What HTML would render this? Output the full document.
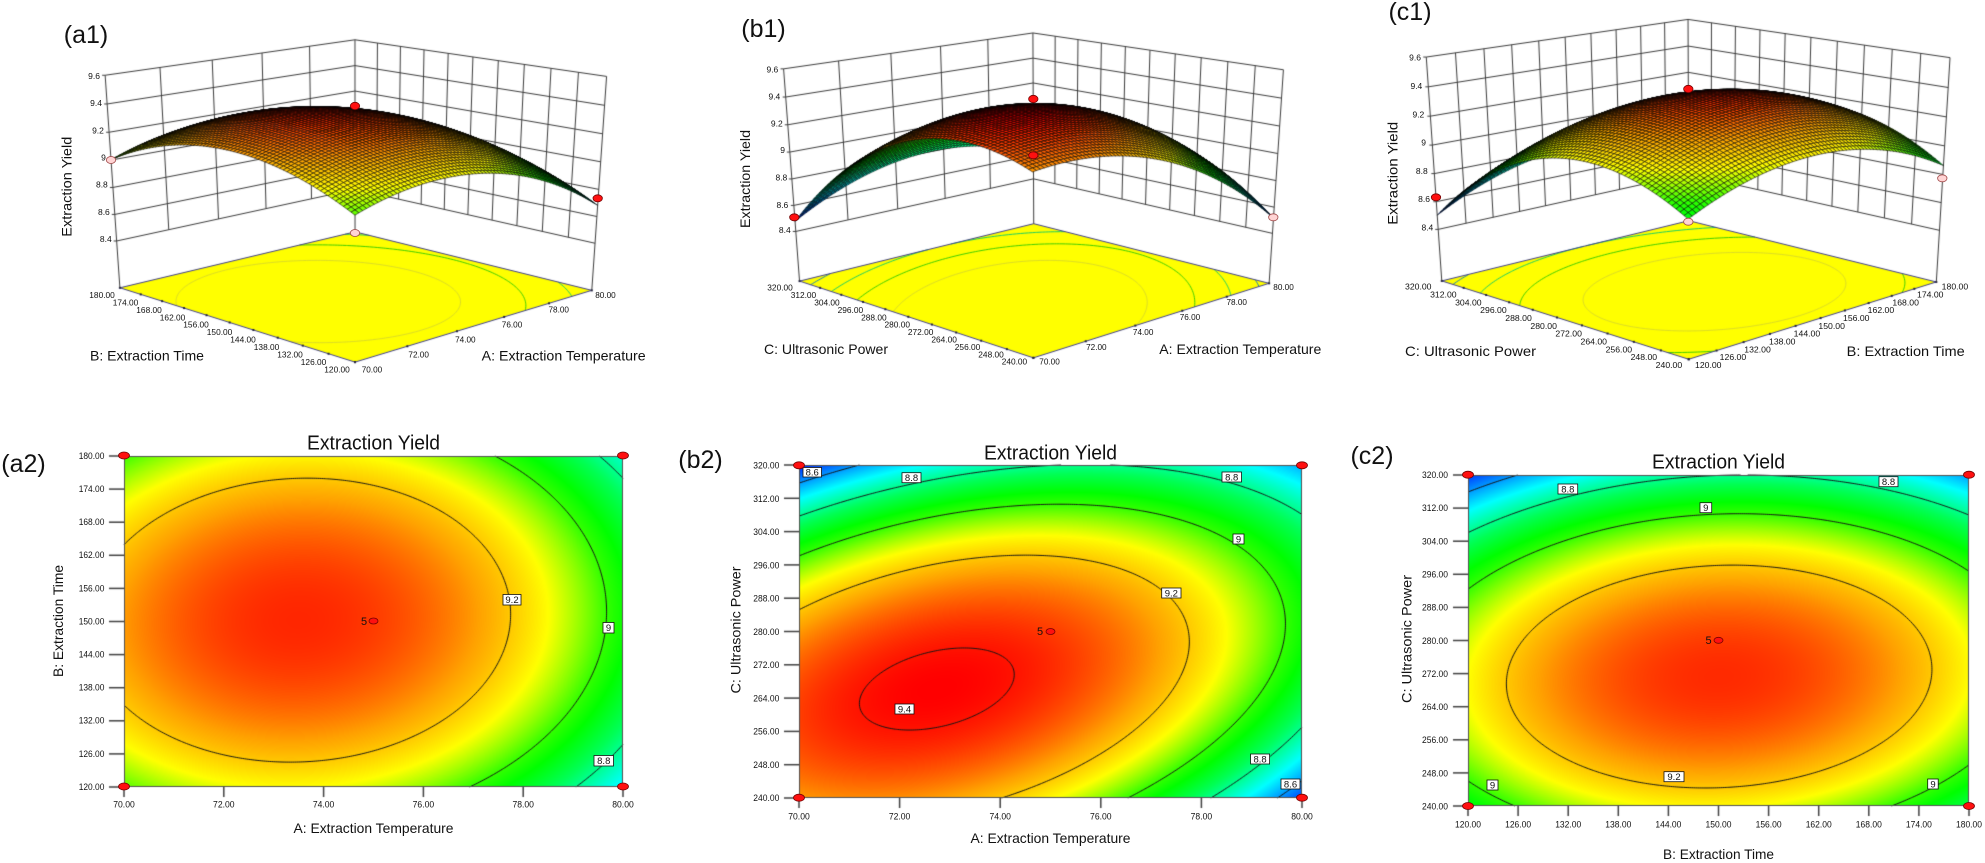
<!DOCTYPE html>
<html><head><meta charset="utf-8">
<style>
html,body{margin:0;padding:0;background:#fff;}
#wrap{position:relative;width:1985px;height:863px;overflow:hidden;background:#fff;}
canvas,svg{position:absolute;left:0;top:0;}
text{font-family:"Liberation Sans",Arial,sans-serif;fill:#111;}
.t8{font-size:8.5px;}
.t9{font-size:9.5px;}
.t14{font-size:14px;}
.pl{font-size:25px;}
.ttl{font-size:20px;}
.lb rect{fill:#fff;stroke:#111;stroke-width:0.8;}
.lb text{font-size:9.5px;text-anchor:middle;}
.rd{fill:#ff1010;stroke:#700;stroke-width:0.8;}
.pk{fill:#ffd4d4;stroke:#a04848;stroke-width:0.8;}
</style></head><body>
<div id="wrap">
<canvas id="cv" width="1985" height="863"></canvas>
<svg id="sv" width="1985" height="863" xmlns="http://www.w3.org/2000/svg">
<text class="pl" x="86" y="43" text-anchor="middle">(a1)</text>
<text class="pl" x="763.5" y="37" text-anchor="middle">(b1)</text>
<text class="pl" x="1410" y="20" text-anchor="middle">(c1)</text>
<text class="pl" x="23.5" y="472" text-anchor="middle">(a2)</text>
<text class="pl" x="700.5" y="468" text-anchor="middle">(b2)</text>
<text class="pl" x="1372" y="464" text-anchor="middle">(c2)</text>

<text class="ttl" x="373.5" y="449.3" text-anchor="middle" textLength="133" lengthAdjust="spacingAndGlyphs">Extraction Yield</text>
<text class="ttl" x="1050.5" y="459.3" text-anchor="middle" textLength="133" lengthAdjust="spacingAndGlyphs">Extraction Yield</text>
<text class="ttl" x="1718.5" y="468.3" text-anchor="middle" textLength="133" lengthAdjust="spacingAndGlyphs">Extraction Yield</text>

<text class="t14" x="373.5" y="833" text-anchor="middle" textLength="160" lengthAdjust="spacingAndGlyphs">A: Extraction Temperature</text>
<text class="t14" x="1050.5" y="843" text-anchor="middle" textLength="160" lengthAdjust="spacingAndGlyphs">A: Extraction Temperature</text>
<text class="t14" x="1718.5" y="859" text-anchor="middle" textLength="111" lengthAdjust="spacingAndGlyphs">B: Extraction Time</text>
<text class="t14" transform="translate(63,621) rotate(-90)" text-anchor="middle" textLength="112" lengthAdjust="spacingAndGlyphs">B: Extraction Time</text>
<text class="t14" transform="translate(740.5,630) rotate(-90)" text-anchor="middle" textLength="127" lengthAdjust="spacingAndGlyphs">C: Ultrasonic Power</text>
<text class="t14" transform="translate(1411.5,639) rotate(-90)" text-anchor="middle" textLength="128" lengthAdjust="spacingAndGlyphs">C: Ultrasonic Power</text>

<text class="t14" transform="translate(71.5,186.7) rotate(-90)" text-anchor="middle" textLength="100" lengthAdjust="spacingAndGlyphs">Extraction Yield</text>
<text class="t14" transform="translate(750,179) rotate(-90)" text-anchor="middle" textLength="98" lengthAdjust="spacingAndGlyphs">Extraction Yield</text>
<text class="t14" transform="translate(1397.5,173.3) rotate(-90)" text-anchor="middle" textLength="103" lengthAdjust="spacingAndGlyphs">Extraction Yield</text>
<text class="t14" x="90" y="360.5" textLength="114" lengthAdjust="spacingAndGlyphs">B: Extraction Time</text>
<text class="t14" x="481.7" y="360.5" textLength="164" lengthAdjust="spacingAndGlyphs">A: Extraction Temperature</text>
<text class="t14" x="764" y="354" textLength="124" lengthAdjust="spacingAndGlyphs">C: Ultrasonic Power</text>
<text class="t14" x="1159.3" y="354" textLength="162" lengthAdjust="spacingAndGlyphs">A: Extraction Temperature</text>
<text class="t14" x="1405" y="356" textLength="131" lengthAdjust="spacingAndGlyphs">C: Ultrasonic Power</text>
<text class="t14" x="1846.7" y="356" textLength="118" lengthAdjust="spacingAndGlyphs">B: Extraction Time</text>

<g class="t8" text-anchor="end">
<text x="100" y="79">9.6</text><text x="102" y="106.2">9.4</text><text x="103.9" y="133.3">9.2</text><text x="105.9" y="160.5">9</text><text x="107.8" y="187.7">8.8</text><text x="109.8" y="214.8">8.6</text><text x="111.7" y="242">8.4</text>
<text x="778.3" y="72.3">9.6</text><text x="780.3" y="99.7">9.4</text><text x="782.7" y="126.3">9.2</text><text x="785" y="153">9</text><text x="787.3" y="180.7">8.8</text><text x="788.3" y="208">8.6</text><text x="790.7" y="233">8.4</text>
<text x="1421" y="60.3">9.6</text><text x="1422.3" y="89">9.4</text><text x="1424.3" y="117.3">9.2</text><text x="1426" y="145.7">9</text><text x="1427.7" y="174">8.8</text><text x="1430" y="202">8.6</text><text x="1433.3" y="230.7">8.4</text>
</g>

<g class="t8">
<text x="89.3" y="298" textLength="25.5" lengthAdjust="spacingAndGlyphs">180.00</text>
<text x="112.8" y="305.4" textLength="25.5" lengthAdjust="spacingAndGlyphs">174.00</text>
<text x="136.3" y="312.9" textLength="25.5" lengthAdjust="spacingAndGlyphs">168.00</text>
<text x="159.8" y="320.3" textLength="25.5" lengthAdjust="spacingAndGlyphs">162.00</text>
<text x="183.3" y="327.7" textLength="25.5" lengthAdjust="spacingAndGlyphs">156.00</text>
<text x="206.8" y="335.2" textLength="25.5" lengthAdjust="spacingAndGlyphs">150.00</text>
<text x="230.3" y="342.6" textLength="25.5" lengthAdjust="spacingAndGlyphs">144.00</text>
<text x="253.8" y="350" textLength="25.5" lengthAdjust="spacingAndGlyphs">138.00</text>
<text x="277.3" y="357.4" textLength="25.5" lengthAdjust="spacingAndGlyphs">132.00</text>
<text x="300.8" y="364.9" textLength="25.5" lengthAdjust="spacingAndGlyphs">126.00</text>
<text x="324.3" y="372.3" textLength="25.5" lengthAdjust="spacingAndGlyphs">120.00</text>
<text x="361.7" y="372.3" textLength="20.5" lengthAdjust="spacingAndGlyphs">70.00</text>
<text x="408.4" y="357.4" textLength="20.5" lengthAdjust="spacingAndGlyphs">72.00</text>
<text x="455.1" y="342.5" textLength="20.5" lengthAdjust="spacingAndGlyphs">74.00</text>
<text x="501.8" y="327.6" textLength="20.5" lengthAdjust="spacingAndGlyphs">76.00</text>
<text x="548.5" y="312.7" textLength="20.5" lengthAdjust="spacingAndGlyphs">78.00</text>
<text x="595.2" y="297.8" textLength="20.5" lengthAdjust="spacingAndGlyphs">80.00</text>
<text x="767.3" y="290.7" textLength="25.5" lengthAdjust="spacingAndGlyphs">320.00</text>
<text x="790.7" y="298.1" textLength="25.5" lengthAdjust="spacingAndGlyphs">312.00</text>
<text x="814.2" y="305.5" textLength="25.5" lengthAdjust="spacingAndGlyphs">304.00</text>
<text x="837.6" y="312.9" textLength="25.5" lengthAdjust="spacingAndGlyphs">296.00</text>
<text x="861.1" y="320.3" textLength="25.5" lengthAdjust="spacingAndGlyphs">288.00</text>
<text x="884.5" y="327.7" textLength="25.5" lengthAdjust="spacingAndGlyphs">280.00</text>
<text x="907.9" y="335.1" textLength="25.5" lengthAdjust="spacingAndGlyphs">272.00</text>
<text x="931.4" y="342.5" textLength="25.5" lengthAdjust="spacingAndGlyphs">264.00</text>
<text x="954.8" y="349.9" textLength="25.5" lengthAdjust="spacingAndGlyphs">256.00</text>
<text x="978.3" y="357.3" textLength="25.5" lengthAdjust="spacingAndGlyphs">248.00</text>
<text x="1001.7" y="364.7" textLength="25.5" lengthAdjust="spacingAndGlyphs">240.00</text>
<text x="1039.3" y="364.7" textLength="20.5" lengthAdjust="spacingAndGlyphs">70.00</text>
<text x="1086.1" y="349.8" textLength="20.5" lengthAdjust="spacingAndGlyphs">72.00</text>
<text x="1132.9" y="334.8" textLength="20.5" lengthAdjust="spacingAndGlyphs">74.00</text>
<text x="1179.7" y="319.9" textLength="20.5" lengthAdjust="spacingAndGlyphs">76.00</text>
<text x="1226.5" y="304.9" textLength="20.5" lengthAdjust="spacingAndGlyphs">78.00</text>
<text x="1273.3" y="290" textLength="20.5" lengthAdjust="spacingAndGlyphs">80.00</text>
<text x="1405" y="289.7" textLength="26.5" lengthAdjust="spacingAndGlyphs">320.00</text>
<text x="1430.1" y="297.5" textLength="26.5" lengthAdjust="spacingAndGlyphs">312.00</text>
<text x="1455.1" y="305.4" textLength="26.5" lengthAdjust="spacingAndGlyphs">304.00</text>
<text x="1480.2" y="313.2" textLength="26.5" lengthAdjust="spacingAndGlyphs">296.00</text>
<text x="1505.3" y="321" textLength="26.5" lengthAdjust="spacingAndGlyphs">288.00</text>
<text x="1530.4" y="328.9" textLength="26.5" lengthAdjust="spacingAndGlyphs">280.00</text>
<text x="1555.4" y="336.7" textLength="26.5" lengthAdjust="spacingAndGlyphs">272.00</text>
<text x="1580.5" y="344.5" textLength="26.5" lengthAdjust="spacingAndGlyphs">264.00</text>
<text x="1605.6" y="352.3" textLength="26.5" lengthAdjust="spacingAndGlyphs">256.00</text>
<text x="1630.6" y="360.2" textLength="26.5" lengthAdjust="spacingAndGlyphs">248.00</text>
<text x="1655.7" y="368" textLength="26.5" lengthAdjust="spacingAndGlyphs">240.00</text>
<text x="1695" y="368" textLength="26.5" lengthAdjust="spacingAndGlyphs">120.00</text>
<text x="1719.7" y="360.2" textLength="26.5" lengthAdjust="spacingAndGlyphs">126.00</text>
<text x="1744.3" y="352.3" textLength="26.5" lengthAdjust="spacingAndGlyphs">132.00</text>
<text x="1769" y="344.5" textLength="26.5" lengthAdjust="spacingAndGlyphs">138.00</text>
<text x="1793.7" y="336.7" textLength="26.5" lengthAdjust="spacingAndGlyphs">144.00</text>
<text x="1818.4" y="328.9" textLength="26.5" lengthAdjust="spacingAndGlyphs">150.00</text>
<text x="1843" y="321" textLength="26.5" lengthAdjust="spacingAndGlyphs">156.00</text>
<text x="1867.7" y="313.2" textLength="26.5" lengthAdjust="spacingAndGlyphs">162.00</text>
<text x="1892.4" y="305.4" textLength="26.5" lengthAdjust="spacingAndGlyphs">168.00</text>
<text x="1917" y="297.5" textLength="26.5" lengthAdjust="spacingAndGlyphs">174.00</text>
<text x="1941.7" y="289.7" textLength="26.5" lengthAdjust="spacingAndGlyphs">180.00</text>
</g>

<g class="t9" text-anchor="end">
<text x="104.4" y="458.9" textLength="25.7" lengthAdjust="spacingAndGlyphs">180.00</text>
<text x="104.4" y="492" textLength="25.7" lengthAdjust="spacingAndGlyphs">174.00</text>
<text x="104.4" y="525.1" textLength="25.7" lengthAdjust="spacingAndGlyphs">168.00</text>
<text x="104.4" y="558.2" textLength="25.7" lengthAdjust="spacingAndGlyphs">162.00</text>
<text x="104.4" y="591.3" textLength="25.7" lengthAdjust="spacingAndGlyphs">156.00</text>
<text x="104.4" y="624.4" textLength="25.7" lengthAdjust="spacingAndGlyphs">150.00</text>
<text x="104.4" y="657.5" textLength="25.7" lengthAdjust="spacingAndGlyphs">144.00</text>
<text x="104.4" y="690.6" textLength="25.7" lengthAdjust="spacingAndGlyphs">138.00</text>
<text x="104.4" y="723.7" textLength="25.7" lengthAdjust="spacingAndGlyphs">132.00</text>
<text x="104.4" y="756.8" textLength="25.7" lengthAdjust="spacingAndGlyphs">126.00</text>
<text x="104.4" y="789.9" textLength="25.7" lengthAdjust="spacingAndGlyphs">120.00</text>
<text x="779.3" y="468.7" textLength="26" lengthAdjust="spacingAndGlyphs">320.00</text>
<text x="779.3" y="501.9" textLength="26" lengthAdjust="spacingAndGlyphs">312.00</text>
<text x="779.3" y="535.2" textLength="26" lengthAdjust="spacingAndGlyphs">304.00</text>
<text x="779.3" y="568.4" textLength="26" lengthAdjust="spacingAndGlyphs">296.00</text>
<text x="779.3" y="601.7" textLength="26" lengthAdjust="spacingAndGlyphs">288.00</text>
<text x="779.3" y="634.9" textLength="26" lengthAdjust="spacingAndGlyphs">280.00</text>
<text x="779.3" y="668.1" textLength="26" lengthAdjust="spacingAndGlyphs">272.00</text>
<text x="779.3" y="701.4" textLength="26" lengthAdjust="spacingAndGlyphs">264.00</text>
<text x="779.3" y="734.6" textLength="26" lengthAdjust="spacingAndGlyphs">256.00</text>
<text x="779.3" y="767.9" textLength="26" lengthAdjust="spacingAndGlyphs">248.00</text>
<text x="779.3" y="801.1" textLength="26" lengthAdjust="spacingAndGlyphs">240.00</text>
<text x="1448" y="478.1" textLength="26" lengthAdjust="spacingAndGlyphs">320.00</text>
<text x="1448" y="511.2" textLength="26" lengthAdjust="spacingAndGlyphs">312.00</text>
<text x="1448" y="544.4" textLength="26" lengthAdjust="spacingAndGlyphs">304.00</text>
<text x="1448" y="577.5" textLength="26" lengthAdjust="spacingAndGlyphs">296.00</text>
<text x="1448" y="610.6" textLength="26" lengthAdjust="spacingAndGlyphs">288.00</text>
<text x="1448" y="643.8" textLength="26" lengthAdjust="spacingAndGlyphs">280.00</text>
<text x="1448" y="676.9" textLength="26" lengthAdjust="spacingAndGlyphs">272.00</text>
<text x="1448" y="710" textLength="26" lengthAdjust="spacingAndGlyphs">264.00</text>
<text x="1448" y="743.1" textLength="26" lengthAdjust="spacingAndGlyphs">256.00</text>
<text x="1448" y="776.3" textLength="26" lengthAdjust="spacingAndGlyphs">248.00</text>
<text x="1448" y="809.4" textLength="26" lengthAdjust="spacingAndGlyphs">240.00</text>
</g>
<g class="t9" text-anchor="middle">
<text x="124" y="807.4" textLength="21.5" lengthAdjust="spacingAndGlyphs">70.00</text>
<text x="223.8" y="807.4" textLength="21.5" lengthAdjust="spacingAndGlyphs">72.00</text>
<text x="323.6" y="807.4" textLength="21.5" lengthAdjust="spacingAndGlyphs">74.00</text>
<text x="423.4" y="807.4" textLength="21.5" lengthAdjust="spacingAndGlyphs">76.00</text>
<text x="523.2" y="807.4" textLength="21.5" lengthAdjust="spacingAndGlyphs">78.00</text>
<text x="623" y="807.4" textLength="21.5" lengthAdjust="spacingAndGlyphs">80.00</text>
<text x="799" y="819.4" textLength="21.5" lengthAdjust="spacingAndGlyphs">70.00</text>
<text x="899.6" y="819.4" textLength="21.5" lengthAdjust="spacingAndGlyphs">72.00</text>
<text x="1000.2" y="819.4" textLength="21.5" lengthAdjust="spacingAndGlyphs">74.00</text>
<text x="1100.8" y="819.4" textLength="21.5" lengthAdjust="spacingAndGlyphs">76.00</text>
<text x="1201.4" y="819.4" textLength="21.5" lengthAdjust="spacingAndGlyphs">78.00</text>
<text x="1302" y="819.4" textLength="21.5" lengthAdjust="spacingAndGlyphs">80.00</text>
<text x="1468" y="827.4" textLength="26" lengthAdjust="spacingAndGlyphs">120.00</text>
<text x="1518.1" y="827.4" textLength="26" lengthAdjust="spacingAndGlyphs">126.00</text>
<text x="1568.2" y="827.4" textLength="26" lengthAdjust="spacingAndGlyphs">132.00</text>
<text x="1618.3" y="827.4" textLength="26" lengthAdjust="spacingAndGlyphs">138.00</text>
<text x="1668.4" y="827.4" textLength="26" lengthAdjust="spacingAndGlyphs">144.00</text>
<text x="1718.5" y="827.4" textLength="26" lengthAdjust="spacingAndGlyphs">150.00</text>
<text x="1768.6" y="827.4" textLength="26" lengthAdjust="spacingAndGlyphs">156.00</text>
<text x="1818.7" y="827.4" textLength="26" lengthAdjust="spacingAndGlyphs">162.00</text>
<text x="1868.8" y="827.4" textLength="26" lengthAdjust="spacingAndGlyphs">168.00</text>
<text x="1918.9" y="827.4" textLength="26" lengthAdjust="spacingAndGlyphs">174.00</text>
<text x="1969" y="827.4" textLength="26" lengthAdjust="spacingAndGlyphs">180.00</text>
</g>

<g class="lb">
<rect x="503" y="594.5" width="18" height="10.5"/><text x="512" y="603">9.2</text>
<rect x="603" y="622.5" width="11" height="10.5"/><text x="608.5" y="631">9</text>
<rect x="594" y="755.5" width="19.5" height="10.5"/><text x="603.75" y="764">8.8</text>
<rect x="803" y="467.5" width="18.5" height="9.5"/><text x="812.2" y="475.5">8.6</text>
<rect x="902" y="472.7" width="19" height="10"/><text x="911.5" y="481">8.8</text>
<rect x="1222" y="472" width="19.5" height="10"/><text x="1231.7" y="480.3">8.8</text>
<rect x="1233" y="534" width="11" height="10"/><text x="1238.5" y="542.3">9</text>
<rect x="1161.7" y="588" width="19.3" height="10"/><text x="1171.3" y="596.3">9.2</text>
<rect x="895" y="704" width="19" height="10"/><text x="904.5" y="712.3">9.4</text>
<rect x="1250.6" y="754" width="19" height="10"/><text x="1260.1" y="762.3">8.8</text>
<rect x="1281" y="779" width="19" height="10"/><text x="1290.5" y="787.3">8.6</text>
<rect x="1558" y="484" width="19.7" height="10"/><text x="1567.8" y="492.3">8.8</text>
<rect x="1879" y="476.7" width="19" height="10"/><text x="1888.5" y="485">8.8</text>
<rect x="1700" y="502.7" width="11.7" height="10"/><text x="1705.8" y="511">9</text>
<rect x="1664" y="771.7" width="20" height="10"/><text x="1674" y="780">9.2</text>
<rect x="1487" y="780" width="11" height="10"/><text x="1492.5" y="788.3">9</text>
<rect x="1927.7" y="779" width="10.5" height="10"/><text x="1933" y="787.3">9</text>
</g>

<g class="rd">
<ellipse cx="124" cy="455.5" rx="5.5" ry="3.5"/><ellipse cx="623" cy="455.5" rx="5.5" ry="3.5"/>
<ellipse cx="124" cy="786.5" rx="5.5" ry="3.5"/><ellipse cx="623" cy="786.5" rx="5.5" ry="3.5"/>
<ellipse cx="373.5" cy="621" rx="4.5" ry="3"/>
<ellipse cx="799" cy="465.3" rx="5.5" ry="3.5"/><ellipse cx="1302" cy="465.3" rx="5.5" ry="3.5"/>
<ellipse cx="799" cy="797.7" rx="5.5" ry="3.5"/><ellipse cx="1302" cy="797.7" rx="5.5" ry="3.5"/>
<ellipse cx="1050.5" cy="631.5" rx="4.5" ry="3"/>
<ellipse cx="1468" cy="474.7" rx="5.5" ry="3.5"/><ellipse cx="1969" cy="474.7" rx="5.5" ry="3.5"/>
<ellipse cx="1468" cy="806" rx="5.5" ry="3.5"/><ellipse cx="1969" cy="806" rx="5.5" ry="3.5"/>
<ellipse cx="1718.5" cy="640.3" rx="4.5" ry="3"/>
</g>
<text x="364" y="625" font-size="11" text-anchor="middle">5</text>
<text x="1040" y="635" font-size="11" text-anchor="middle">5</text>
<text x="1708.5" y="644" font-size="11" text-anchor="middle">5</text>

<g class="rd">
<ellipse cx="355" cy="106" rx="4.7" ry="3.7"/><ellipse cx="597.7" cy="198.3" rx="4.7" ry="3.5"/>
<ellipse cx="1033.3" cy="99" rx="4.7" ry="3.7"/><ellipse cx="1033.3" cy="155.3" rx="4.7" ry="3.5"/><ellipse cx="794.3" cy="217.3" rx="4.7" ry="3.5"/>
<ellipse cx="1688.3" cy="89" rx="4.7" ry="3.7"/><ellipse cx="1436" cy="197.3" rx="4.7" ry="3.5"/>
</g>
<g class="pk">
<ellipse cx="111" cy="160" rx="4.7" ry="3.5"/><ellipse cx="355" cy="233" rx="4.7" ry="3.5"/>
<ellipse cx="1273.3" cy="217.3" rx="4.7" ry="3.5"/>
<ellipse cx="1942.3" cy="178.3" rx="4.7" ry="3.5"/><ellipse cx="1688.3" cy="221.7" rx="4.7" ry="3.5"/>
</g>
</svg>
</div>
<script>
(function(){
const cv=document.getElementById('cv');const ctx=cv.getContext('2d');
function Yf(a,b,c){return 9.3575-0.15*a+0.01*b-0.17*c+0.02*a*b+0.22*a*c+0.04*b*c-0.25*a*a-0.245*b*b-0.39*c*c;}
function hue(h){h=Math.max(0,Math.min(240,h));const x=1-Math.abs((h/60)%2-1);let r,g,b;
 if(h<60){r=1;g=x;b=0}else if(h<120){r=x;g=1;b=0}else if(h<180){r=0;g=1;b=x}else{r=0;g=x;b=1}
 return [r*255,g*255,b*255];}
const HS=[[8.45,240],[8.7,180],[8.85,140],[9.0,108],[9.13,60],[9.25,38],[9.42,0]];
function cmap(v){
 if(v<=HS[0][0])return hue(240);
 for(let i=1;i<HS.length;i++){if(v<=HS[i][0]){const t=(v-HS[i-1][0])/(HS[i][0]-HS[i-1][0]);return hue(HS[i-1][1]+(HS[i][1]-HS[i-1][1])*t);}}
 return hue(0);}
function rgb(c,k){k=k||1;return 'rgb('+Math.round(c[0]*k)+','+Math.round(c[1]*k)+','+Math.round(c[2]*k)+')';}
function gauss(M){const n=M.length;
 for(let i=0;i<n;i++){let p=i;for(let r=i+1;r<n;r++)if(Math.abs(M[r][i])>Math.abs(M[p][i]))p=r;
  const tmp=M[i];M[i]=M[p];M[p]=tmp;
  for(let r=0;r<n;r++){if(r===i)continue;const f=M[r][i]/M[i][i];for(let c=i;c<=n;c++)M[r][c]-=f*M[i][c];}}
 return M.map((row,i)=>row[n]/row[i]);}
function fitProj(pts){let mx=0,my=0;for(const p of pts){mx+=p[3];my+=p[4];}mx/=pts.length;my/=pts.length;
 const S=200,n=11;const M=[];for(let i=0;i<n;i++)M.push(new Array(n+1).fill(0));
 function add(r,rhs){for(let i=0;i<n;i++){for(let j=0;j<n;j++)M[i][j]+=r[i]*r[j];M[i][n]+=r[i]*rhs;}}
 for(const p of pts){const X=p[0],Yw=p[1],Z=(p[2]-9)/0.6;const x=(p[3]-mx)/S,y=(p[4]-my)/S;
  add([X,Yw,Z,1,0,0,0,0,-x*X,-x*Yw,-x*Z],x);add([0,0,0,0,X,Yw,Z,1,-y*X,-y*Yw,-y*Z],y);}
 for(let i=0;i<n;i++)M[i][i]+=1e-10;
 const q=gauss(M);
 return function(R,L,v){const Z=(v-9)/0.6;const d=q[8]*R+q[9]*L+q[10]*Z+1;
  return [mx+S*(q[0]*R+q[1]*L+q[2]*Z+q[3])/d,my+S*(q[4]*R+q[5]*L+q[6]*Z+q[7])/d,d];};}
function contourLines(nx,ny,fu,fv,F,toXY,levels,colorFn,lw){
 const V=[];for(let j=0;j<=ny;j++){const r=[];for(let i=0;i<=nx;i++)r.push(F(fu(i),fv(j)));V.push(r);}
 for(const L of levels){ctx.beginPath();
  for(let j=0;j<ny;j++)for(let i=0;i<nx;i++){
   const q=[[i,j],[i+1,j],[i+1,j+1],[i,j+1]];const pts=[];
   for(let e=0;e<4;e++){const A=q[e],B=q[(e+1)%4];const va=V[A[1]][A[0]],vb=V[B[1]][B[0]];
    if((va<L)!==(vb<L)){const t=(L-va)/(vb-va);const ii=A[0]+(B[0]-A[0])*t,jj=A[1]+(B[1]-A[1])*t;pts.push(toXY(fu(ii),fv(jj)));}}
   if(pts.length>=2){ctx.moveTo(pts[0][0],pts[0][1]);ctx.lineTo(pts[1][0],pts[1][1]);
    if(pts.length===4){ctx.moveTo(pts[2][0],pts[2][1]);ctx.lineTo(pts[3][0],pts[3][1]);}}}
  ctx.strokeStyle=colorFn(L);ctx.lineWidth=lw;ctx.stroke();}}
function plot2D(x0,y0,x1,y1,F,xt,yt){
 const X0=Math.round(x0),Y0=Math.round(y0),W=Math.round(x1)-X0,H=Math.round(y1)-Y0;
 const img=ctx.createImageData(W,H);const d=img.data;
 for(let j=0;j<H;j++){const v=1-2*(j+0.5)/H;for(let i=0;i<W;i++){const u=-1+2*(i+0.5)/W;const c=cmap(F(u,v));const k=(j*W+i)*4;d[k]=c[0];d[k+1]=c[1];d[k+2]=c[2];d[k+3]=255;}}
 ctx.putImageData(img,X0,Y0);
 const nx=240,ny=160;
 contourLines(nx,ny,i=>-1+2*i/nx,j=>1-2*j/ny,F,(u,v)=>[X0+(u+1)/2*W,Y0+(1-v)/2*H],[8.6,8.8,9.0,9.2,9.4],()=>'#151515',1);
 ctx.strokeStyle='#505050';ctx.lineWidth=1;ctx.strokeRect(X0+0.5,Y0+0.5,W-1,H-1);
 ctx.strokeStyle='#404040';ctx.lineWidth=1.5;
 for(let k=0;k<yt;k++){const y=Y0+H*k/(yt-1);ctx.beginPath();ctx.moveTo(X0-15,y);ctx.lineTo(X0,y);ctx.stroke();}
 for(let k=0;k<xt;k++){const x=X0+W*k/(xt-1);ctx.beginPath();ctx.moveTo(x,Y0+H);ctx.lineTo(x,Y0+H+10);ctx.stroke();}}
function floorCol(lv){if(lv>=9.15)return 'rgba(200,200,60,0.7)';const c=cmap(lv);return rgb(c,0.78);}
function draw3D(pts,F,vf,nR,nL){
 const P=fitProj(pts);
 const line=(a,b)=>{ctx.beginPath();ctx.moveTo(a[0],a[1]);ctx.lineTo(b[0],b[1]);ctx.stroke();};
 const fc=[P(-1,1,vf),P(-1,-1,vf),P(1,-1,vf),P(1,1,vf)];
 const floorPath=()=>{ctx.beginPath();ctx.moveTo(fc[0][0],fc[0][1]);for(let i=1;i<4;i++)ctx.lineTo(fc[i][0],fc[i][1]);ctx.closePath();};
 floorPath();ctx.fillStyle='#ffff00';ctx.fill();
 contourLines(80,80,i=>-1+2*i/80,j=>-1+2*j/80,F,(R,L)=>P(R,L,vf),[8.6,8.8,9.0,9.2],floorCol,0.9);
 floorPath();ctx.strokeStyle='#40408a';ctx.lineWidth=1;ctx.stroke();
 ctx.fillStyle='#202040';
 for(let k=0;k<=nL;k++){const p=P(-1,-1+2*k/nL,vf);ctx.fillRect(p[0]-1,p[1]-1,2,2);}
 for(let k=0;k<=nR;k++){const p=P(-1+2*k/nR,-1,vf);ctx.fillRect(p[0]-1,p[1]-1,2,2);}
 ctx.strokeStyle='#3c3c3c';ctx.lineWidth=1;
 for(let k=0;k<=6;k++){const v=8.4+0.2*k;line(P(-1,1,v),P(1,1,v));line(P(1,1,v),P(1,-1,v));}
 for(let k=1;k<nR;k++){const R=-1+2*k/nR;line(P(R,1,8.4),P(R,1,9.6));}
 for(let k=1;k<nL;k++){const L=-1+2*k/nL;line(P(1,L,8.4),P(1,L,9.6));}
 line(P(-1,1,vf),P(-1,1,9.6));line(P(1,1,vf),P(1,1,9.6));line(P(1,-1,vf),P(1,-1,9.6));
 for(let k=0;k<=6;k++){const p=P(-1,1,8.4+0.2*k);line([p[0]-3,p[1]],p);}
 const n=72;const G=[];
 for(let j=0;j<=n;j++){const r=[];for(let i=0;i<=n;i++){const R=-1+2*i/n,L=-1+2*j/n;const v=F(R,L);r.push([P(R,L,v),v]);}G.push(r);}
 const cells=[];
 for(let j=0;j<n;j++)for(let i=0;i<n;i++){const q=[G[j][i],G[j][i+1],G[j+1][i+1],G[j+1][i]];
  cells.push([q,(q[0][0][2]+q[1][0][2]+q[2][0][2]+q[3][0][2])/4,(q[0][1]+q[1][1]+q[2][1]+q[3][1])/4]);}
 const s=P(1,1,8.4)[2]>P(-1,-1,8.4)[2]?1:-1;
 cells.sort((A,B)=>s*(B[1]-A[1]));
 ctx.lineWidth=0.65;ctx.strokeStyle='rgba(0,0,0,0.85)';ctx.lineJoin='round';
 for(const c of cells){const q=c[0];ctx.beginPath();ctx.moveTo(q[0][0][0],q[0][0][1]);for(let t=1;t<4;t++)ctx.lineTo(q[t][0][0],q[t][0][1]);ctx.closePath();
  ctx.fillStyle=rgb(cmap(c[2]));ctx.fill();ctx.stroke();}}
ctx.fillStyle='#fff';ctx.fillRect(0,0,1985,863);
plot2D(124,455.5,623,786.5,(u,v)=>Yf(u,v,0),6,11);
plot2D(799,465.3,1302,797.7,(u,v)=>Yf(u,0,v),6,11);
plot2D(1468,474.7,1969,806,(u,v)=>Yf(0,u,v),11,11);
draw3D([[-1,1,9.6,105,76],[-1,1,8.4,116.7,239],[-1,1,8.04,120,288.3],[1,-1,9.6,606.7,76.7],[1,-1,8.04,591.7,289.3],[1,1,9.6,355,39.3],[-1,-1,8.04,355,363],[1,1,8.04,355,233]],(R,L)=>Yf(R,L,0),8.04,5,10);
draw3D([[-1,1,9.6,783.3,69.3],[-1,1,8.4,795.7,230],[-1,1,8.01,800,281.7],[1,-1,9.6,1283.3,70],[1,-1,8.01,1269.3,282.7],[1,1,9.6,1033.3,32.7],[-1,-1,8.01,1033.3,358.3],[1,1,8.01,1033.3,224.3]],(R,L)=>Yf(R,0,L),8.01,5,10);
draw3D([[-1,1,9.6,1426,57.3],[-1,1,8.4,1438.3,227.7],[-1,1,8.02,1442.3,281.7],[1,-1,9.6,1950,58.3],[1,-1,8.02,1936.7,280.7],[1,1,9.6,1688.3,19],[-1,-1,8.02,1688.3,360],[1,1,8.02,1688.3,221.7]],(R,L)=>Yf(0,R,L),8.02,10,10);
})();
</script>
</body></html>
